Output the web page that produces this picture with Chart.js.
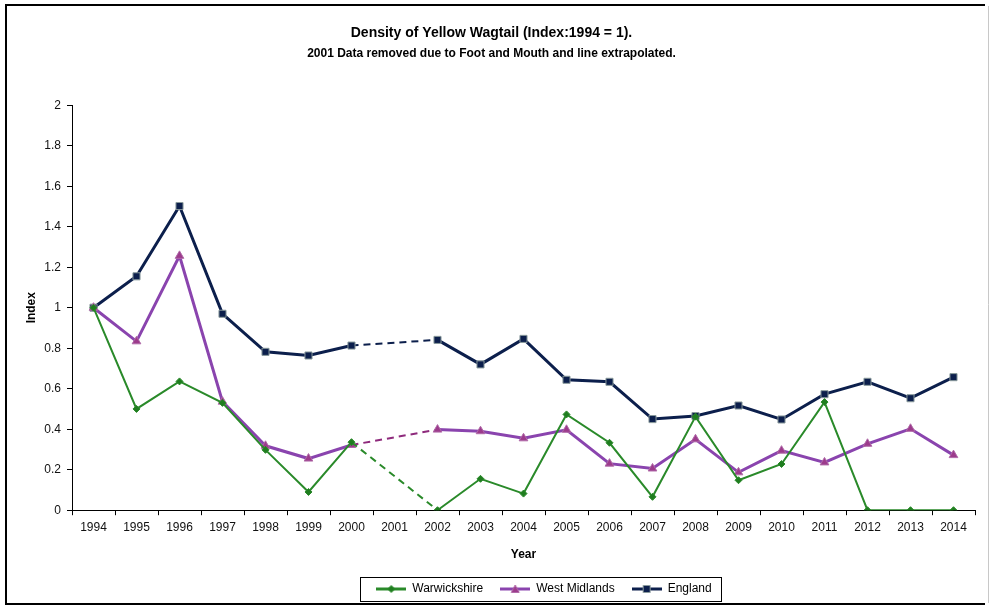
<!DOCTYPE html>
<html>
<head>
<meta charset="utf-8">
<title>Density of Yellow Wagtail</title>
<script src="https://cdn.jsdelivr.net/npm/chart.js@4.4.1/dist/chart.umd.min.js"></script>
<style>
  html, body { margin: 0; padding: 0; background: #fff; }
  #wrap { width: 990px; height: 607px; }
</style>
</head>
<body>
<div id="wrap"><canvas id="grafico" width="990" height="607"></canvas></div>
<script>
// Survey years (2001 has no data: Foot and Mouth)
const years = ['1994', '1995', '1996', '1997', '1998', '1999', '2000', '2001', '2002', '2003', '2004',
               '2005', '2006', '2007', '2008', '2009', '2010', '2011', '2012', '2013', '2014'];

// Index values, 1994 = 1
const warwickshire = [1.0, 0.50, 0.636, 0.53, 0.298, 0.09, 0.336, null, 0.0, 0.155, 0.082,
                      0.473, 0.333, 0.066, 0.462, 0.148, 0.228, 0.534, 0.0, 0.0, 0.0];
const westMidlands = [1.0, 0.834, 1.256, 0.536, 0.318, 0.255, 0.322, null, 0.398, 0.39, 0.355,
                      0.397, 0.23, 0.206, 0.35, 0.187, 0.294, 0.236, 0.328, 0.402, 0.272];
const england = [1.0, 1.155, 1.502, 0.97, 0.782, 0.764, 0.813, null, 0.841, 0.72, 0.846,
                 0.644, 0.634, 0.45, 0.465, 0.517, 0.448, 0.573, 0.634, 0.553, 0.657];

const yTicks = [0, 0.2, 0.4, 0.6, 0.8, 1, 1.2, 1.4, 1.6, 1.8, 2];

const FONT = "Arial, 'Liberation Sans', sans-serif";

// the segment spanning the missing year: p0DataIndex is the skipped point
const isGap = ctx => ctx.chart.data.datasets[ctx.datasetIndex].data[ctx.p0DataIndex] == null;
const gapDash = ctx => (isGap(ctx) ? [7, 5] : undefined);
const gapWidth = w => ctx => (isGap(ctx) ? 2 : w);

// small canvas icon: line with the marker in the middle (legend)
function legendIcon(color, marker, fill, border) {
    const c = document.createElement('canvas');
    c.width = 30; c.height = 10;
    const g = c.getContext('2d');
    g.strokeStyle = color;
    g.lineWidth = 3;
    g.beginPath(); g.moveTo(0, 5); g.lineTo(30, 5); g.stroke();
    g.fillStyle = fill;
    g.strokeStyle = border;
    g.lineWidth = 1;
    g.beginPath();
    if (marker === 'diamond') {
        g.moveTo(15, 1.5); g.lineTo(18.5, 5); g.lineTo(15, 8.5); g.lineTo(11.5, 5);
    } else if (marker === 'triangle') {
        g.moveTo(15, 1); g.lineTo(19, 8.5); g.lineTo(11, 8.5);
    } else {
        g.rect(11.5, 1.5, 7, 7);
    }
    g.closePath(); g.fill(); g.stroke();
    return c;
}

// white page with the frame
const frame = {
    id: 'frame',
    beforeDraw(chart) {
        const c = chart.ctx;
        c.save();
        c.fillStyle = '#fff';
        c.fillRect(0, 0, chart.width, chart.height);
        c.strokeStyle = '#000';
        c.lineWidth = 2;
        c.beginPath();
        c.moveTo(985, 5); c.lineTo(6, 5); c.lineTo(6, 604); c.lineTo(985, 604);
        c.stroke();
        c.strokeStyle = '#c8c8c8';
        c.lineWidth = 1;
        c.beginPath(); c.moveTo(988.5, 6); c.lineTo(988.5, 603); c.stroke();
        c.restore();
    }
};

// move the legend to the right a bit and put a box round it
const legendBox = {
    id: 'legendBox',
    afterLayout(chart) {
        const lg = chart.legend;
        const shift = 544 - (lg.left + lg.right) / 2;
        lg.left += shift;
        lg.right += shift;
    },
    afterDraw(chart) {
        const boxes = chart.legend.legendHitBoxes;
        if (!boxes || !boxes.length) return;
        const left = Math.min(...boxes.map(b => b.left)) - 16;
        const right = Math.max(...boxes.map(b => b.left + b.width)) + 10;
        const mid = boxes[0].top + boxes[0].height / 2;
        const c = chart.ctx;
        c.save();
        c.strokeStyle = '#000';
        c.lineWidth = 1;
        c.strokeRect(Math.round(left) + 0.5, Math.round(mid - 12) + 0.5, Math.round(right - left), 24);
        c.restore();
    }
};

const ctx = document.getElementById('grafico').getContext('2d');
new Chart(ctx, {
    type: 'line',
    data: {
        labels: years,
        datasets: [
            {
                label: 'Warwickshire',
                data: warwickshire,
                borderColor: '#2a8a2a',
                backgroundColor: '#2a8a2a',
                borderWidth: 2,
                pointStyle: 'rectRot',
                pointRadius: 3.5,
                pointBorderWidth: 1,
                pointBorderColor: '#2a8a2a',
                pointBackgroundColor: '#1f7d1f',
                spanGaps: true,
                segment: { borderDash: gapDash },
                order: 1
            },
            {
                label: 'West Midlands',
                data: westMidlands,
                borderColor: '#8a44ae',
                backgroundColor: '#8a44ae',
                borderWidth: 3,
                pointStyle: 'triangle',
                pointRadius: 5,
                pointBorderWidth: 1,
                pointBorderColor: '#b06aa8',
                pointBackgroundColor: '#9c3b8c',
                spanGaps: true,
                segment: {
                    borderDash: gapDash,
                    borderWidth: gapWidth(3),
                    borderColor: c => (isGap(c) ? '#8e2a7c' : undefined)
                },
                order: 2
            },
            {
                label: 'England',
                data: england,
                borderColor: '#0c1f4c',
                backgroundColor: '#0c1f4c',
                borderWidth: 3,
                pointStyle: 'rect',
                pointRadius: 5,
                pointBorderWidth: 1,
                pointBorderColor: '#8a9a9c',
                pointBackgroundColor: '#0c1f4c',
                spanGaps: true,
                segment: { borderDash: gapDash, borderWidth: gapWidth(3) },
                order: 3
            }
        ]
    },
    options: {
        responsive: false,
        animation: false,
        layout: { padding: { top: 10, left: 8, right: 15, bottom: 2 } },
        plugins: {
            title: {
                display: true,
                text: 'Density of Yellow Wagtail (Index:1994 = 1).',
                color: '#000',
                font: { family: FONT, size: 14, weight: 'bold' },
                padding: { top: 15, bottom: 5 }
            },
            subtitle: {
                display: true,
                text: '2001 Data removed due to Foot and Mouth and line extrapolated.',
                color: '#000',
                font: { family: FONT, size: 12, weight: 'bold' },
                padding: { top: 0, bottom: 44 }
            },
            legend: {
                position: 'bottom',
                labels: {
                    color: '#000',
                    font: { family: FONT, size: 12 },
                    usePointStyle: true,
                    pointStyleWidth: 30,
                    boxHeight: 10,
                    padding: 17,
                    generateLabels: chart => chart.data.datasets.map((ds, i) => ({
                        text: ds.label,
                        datasetIndex: i,
                        fontColor: '#000',
                        pointStyle: legendIcon(ds.borderColor,
                            ['diamond', 'triangle', 'square'][i],
                            ds.pointBackgroundColor, ds.pointBorderColor),
                        lineWidth: 0
                    }))
                }
            },
            tooltip: { enabled: false }
        },
        scales: {
            x: {
                offset: true,
                grid: {
                    display: true,
                    offset: true,
                    drawOnChartArea: false,
                    tickLength: 5,
                    color: '#000'
                },
                border: { color: '#000', width: 1 },
                ticks: {
                    color: '#111',
                    font: { family: FONT, size: 12 },
                    padding: 5,
                    maxRotation: 0,
                    autoSkip: false
                },
                title: {
                    display: true,
                    text: 'Year',
                    color: '#000',
                    font: { family: FONT, size: 12, weight: 'bold' },
                    padding: { top: 8, bottom: 4 }
                }
            },
            y: {
                min: 0,
                max: 2,
                afterBuildTicks: scale => { scale.ticks = yTicks.map(v => ({ value: v })); },
                afterFit: scale => { scale.width = 64; },
                grid: {
                    display: true,
                    drawOnChartArea: false,
                    tickLength: 5,
                    color: '#000'
                },
                border: { color: '#000', width: 1 },
                ticks: {
                    color: '#111',
                    font: { family: FONT, size: 12 },
                    padding: 6,
                    callback: v => String(Number(v.toFixed(1)))
                },
                title: {
                    display: true,
                    text: 'Index',
                    color: '#000',
                    font: { family: FONT, size: 12, weight: 'bold' },
                    padding: { top: 16, bottom: 4 }
                }
            }
        }
    },
    plugins: [frame, legendBox]
});
</script>
</body>
</html>
